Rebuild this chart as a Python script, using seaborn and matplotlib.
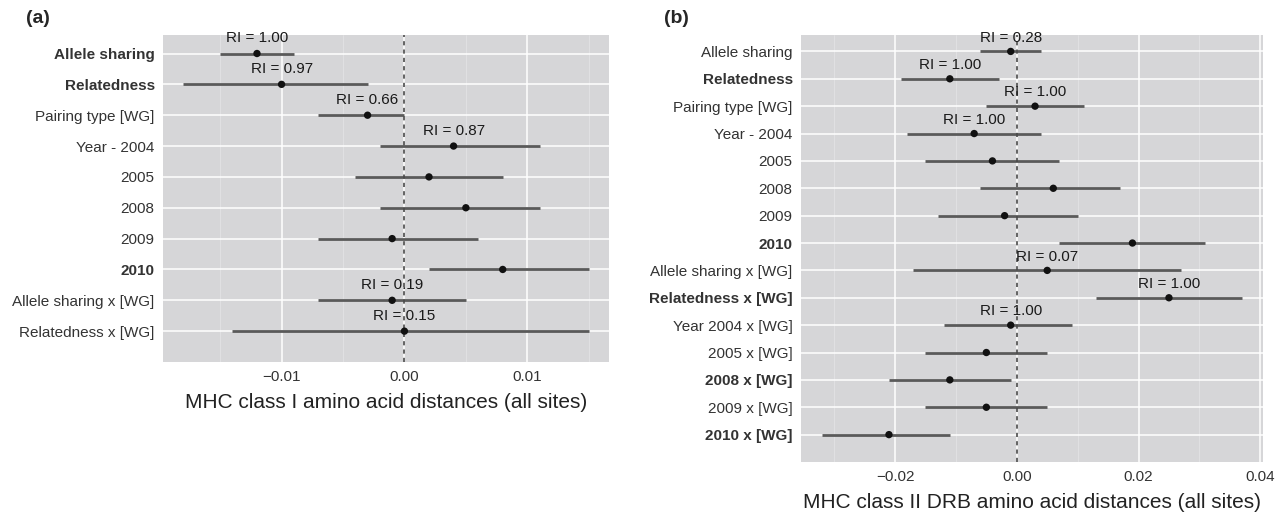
import numpy as np
import pandas as pd
import matplotlib
matplotlib.use('Agg')
import matplotlib.pyplot as plt
import seaborn as sns
from matplotlib.ticker import FuncFormatter

# (a) MHC class I
terms_a = ['Allele sharing', 'Relatedness', 'Pairing type [WG]', 'Year - 2004', '2005', '2008',
           '2009', '2010', 'Allele sharing x [WG]', 'Relatedness x [WG]']
est_a = [-0.012, -0.010, -0.003, 0.004, 0.002, 0.005, -0.001, 0.008, -0.001, 0.000]
lo_a = [-0.015, -0.018, -0.007, -0.002, -0.004, -0.002, -0.007, 0.002, -0.007, -0.014]
hi_a = [-0.009, -0.003, 0.000, 0.011, 0.008, 0.011, 0.006, 0.015, 0.005, 0.015]
ri_a = ['1.00', '0.97', '0.66', '0.87', '', '', '', '', '0.19', '0.15']
bold_a = ['Allele sharing', 'Relatedness', '2010']

# (b) MHC class II DRB
terms_b = ['Allele sharing', 'Relatedness', 'Pairing type [WG]', 'Year - 2004', '2005', '2008',
           '2009', '2010', 'Allele sharing x [WG]', 'Relatedness x [WG]', 'Year 2004 x [WG]',
           '2005 x [WG]', '2008 x [WG]', '2009 x [WG]', '2010 x [WG]']
est_b = [-0.001, -0.011, 0.003, -0.007, -0.004, 0.006, -0.002, 0.019, 0.005, 0.025,
         -0.001, -0.005, -0.011, -0.005, -0.021]
lo_b = [-0.006, -0.019, -0.005, -0.018, -0.015, -0.006, -0.013, 0.007, -0.017, 0.013,
        -0.012, -0.015, -0.021, -0.015, -0.032]
hi_b = [0.004, -0.003, 0.011, 0.004, 0.007, 0.017, 0.010, 0.031, 0.027, 0.037,
        0.009, 0.005, -0.001, 0.005, -0.011]
ri_b = ['0.28', '1.00', '1.00', '1.00', '', '', '', '', '0.07', '1.00', '1.00', '', '', '', '']
bold_b = ['Relatedness', '2010', 'Relatedness x [WG]', '2008 x [WG]', '2010 x [WG]']

sns.set_theme(style='darkgrid')
plt.rcParams['font.family'] = ['Liberation Sans', 'DejaVu Sans']

fig = plt.figure(figsize=(12.87, 5.21), dpi=100)
ax_a = fig.add_axes([163 / 1287, 1 - 362 / 521, 446 / 1287, 327 / 521])
ax_b = fig.add_axes([801 / 1287, 1 - 462 / 521, 462 / 1287, 427 / 521])

minus = FuncFormatter(lambda v, _: f'{v:.2f}'.replace('-', '\u2212'))


def forest(ax, terms, est, lo, hi, ri, bold, xticks, minor, xlabel):
    df = pd.DataFrame({'term': terms, 'est': est, 'lo': lo, 'hi': hi, 'ri': ri})
    df['pos'] = np.arange(len(df))
    ax.set_facecolor('#d6d6d8')
    ax.hlines(df['pos'], df['lo'], df['hi'], color='#5a5a5a', lw=2.0, zorder=2)
    sns.scatterplot(data=df, x='est', y='pos', color='#111111', s=28, edgecolor='none',
                    zorder=3, ax=ax, legend=False)
    ax.axvline(0, color='#4a4a4a', lw=1.2, ls=(0, (2.5, 2.5)), zorder=2.5)
    for _, r in df[df['ri'] != ''].iterrows():
        ax.text(r['est'], r['pos'] - 0.5, f"RI = {r['ri']}", ha='center', va='center',
                fontsize=11, color='#1a1a1a', zorder=4)
    ax.set_ylim(len(df), -0.6)
    ax.set_yticks(df['pos'])
    ax.set_yticklabels(df['term'])
    for lab in ax.get_yticklabels():
        if lab.get_text() in bold:
            lab.set_fontweight('bold')
    ax.set_xticks(xticks)
    ax.set_xticks(minor, minor=True)
    ax.xaxis.set_major_formatter(minus)
    ax.grid(which='major', color='white', lw=1.1)
    ax.grid(which='minor', axis='x', color='#e2e2e4', lw=0.6)
    ax.tick_params(which='major', length=3, width=0.8, color='#444444', labelsize=11,
                   labelcolor='#333333', pad=3)
    ax.tick_params(which='minor', length=0)
    for sp in ax.spines.values():
        sp.set_visible(False)
    ax.set_xlabel(xlabel, fontsize=15, color='#222222', labelpad=6)
    ax.set_ylabel('')


forest(ax_a, terms_a, est_a, lo_a, hi_a, ri_a, bold_a, [-0.01, 0.0, 0.01],
       [-0.015, -0.005, 0.005, 0.015], 'MHC class I amino acid distances (all sites)')
ax_a.set_xlim(-0.01965, 0.01665)

forest(ax_b, terms_b, est_b, lo_b, hi_b, ri_b, bold_b, [-0.02, 0.0, 0.02, 0.04],
       [-0.03, -0.01, 0.01, 0.03], 'MHC class II DRB amino acid distances (all sites)')
ax_b.set_xlim(-0.03545, 0.04045)

fig.text(26 / 1287, 1 - 10 / 521, '(a)', fontsize=14, fontweight='bold', va='top', ha='left')
fig.text(664 / 1287, 1 - 10 / 521, '(b)', fontsize=14, fontweight='bold', va='top', ha='left')

fig.savefig('out.png', dpi=100, facecolor='white')
